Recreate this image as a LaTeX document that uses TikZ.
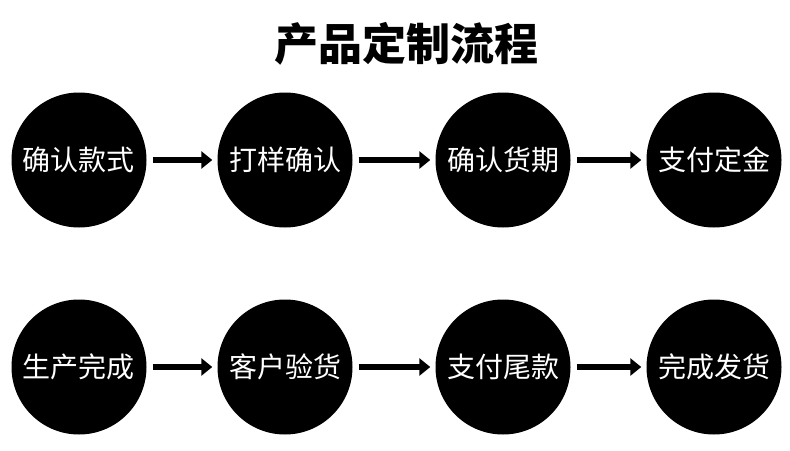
\documentclass[tikz,border=0pt]{standalone}
\usepackage{fontspec}
\newfontfamily\cjk{Noto Sans CJK SC}
\usetikzlibrary{arrows.meta}

\begin{document}
\begin{tikzpicture}[
      x=1pt, y=-1pt,
      every node/.style={font=\cjk},
      stage/.style={circle, fill=black, text=white, inner sep=0pt,
                    minimum size=135pt, font=\cjk\fontsize{28}{28}\selectfont},
      flow/.style={-{Triangle[length=11pt,width=17pt]}, line width=6.5pt,
                   shorten <=6pt, shorten >=5pt},
    ]
    \useasboundingbox (0,0) rectangle (790,450);
    \node[font=\cjk\bfseries\fontsize{44}{44}\selectfont] (title) at (406,44) {产品定制流程};

    % first row
    \node[stage] (s1) at (79,160)  {确认款式};
    \node[stage] (s2) at (285,160) {打样确认};
    \node[stage] (s3) at (503,160) {确认货期};
    \node[stage] (s4) at (714,160) {支付定金};

    % second row
    \node[stage] (s5) at (79,367)  {生产完成};
    \node[stage] (s6) at (285,367) {客户验货};
    \node[stage] (s7) at (503,367) {支付尾款};
    \node[stage] (s8) at (714,367) {完成发货};

    \draw[flow] (s1) -- (s2);
    \draw[flow] (s2) -- (s3);
    \draw[flow] (s3) -- (s4);
    \draw[flow] (s5) -- (s6);
    \draw[flow] (s6) -- (s7);
    \draw[flow] (s7) -- (s8);
  \end{tikzpicture}
\end{document}
